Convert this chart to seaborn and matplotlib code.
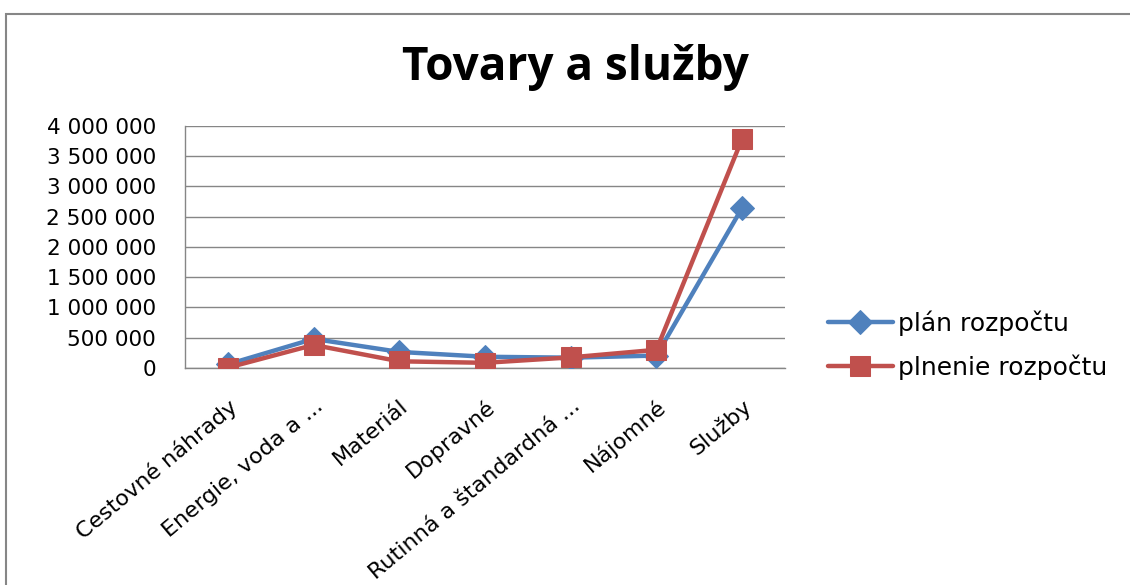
import numpy as np
import pandas as pd
import matplotlib.pyplot as plt
from matplotlib.patches import Rectangle
from matplotlib.ticker import FuncFormatter
import seaborn as sns

categories = ['Cestovné náhrady', 'Energie, voda a ...', 'Materiál', 'Dopravné',
              'Rutinná a štandardná ...', 'Nájomné', 'Služby']
plan = [60000, 480000, 265000, 185000, 170000, 205000, 2645000]
plnenie = [5000, 380000, 110000, 85000, 175000, 300000, 3785000]
series_names = ['plán rozpočtu', 'plnenie rozpočtu']
y_ticks = [0, 500000, 1000000, 1500000, 2000000, 2500000, 3000000, 3500000, 4000000]

sns.set_style('white')
plt.rcParams['font.family'] = ['DejaVu Sans']
plt.rcParams['text.color'] = 'black'
plt.rcParams['xtick.color'] = 'black'
plt.rcParams['ytick.color'] = 'black'

fig = plt.figure(figsize=(11.3, 5.85), dpi=100)
ax = fig.add_axes([0.1637, 0.371, 0.531, 0.414])

df = pd.DataFrame({'kategoria': categories * 2,
                   'hodnota': plan + plnenie,
                   'rad': [series_names[0]] * 7 + [series_names[1]] * 7})
df['x'] = list(range(7)) * 2

colors = {'plán rozpočtu': '#4F81BD', 'plnenie rozpočtu': '#C0504D'}
markers = {'plán rozpočtu': 'D', 'plnenie rozpočtu': 's'}
sizes = {'plán rozpočtu': 12, 'plnenie rozpočtu': 15}

# one line per series, categories placed on integer positions
for name in series_names:
    sub = df[df['rad'] == name]
    sns.lineplot(data=sub, x='x', y='hodnota', ax=ax, color=colors[name],
                 linewidth=3.2, marker=markers[name], markersize=sizes[name],
                 markeredgecolor=colors[name], label=name, zorder=3)

ax.set_xlim(-0.5, 6.5)
ax.set_ylim(0, 4000000)
ax.set_yticks(y_ticks)
ax.yaxis.set_major_formatter(FuncFormatter(lambda v, p: f'{int(v):,}'.replace(',', ' ')))
ax.set_xticks(range(7))
ax.set_xticklabels(categories, rotation=40, ha='right', rotation_mode='anchor', fontsize=16)
ax.tick_params(axis='y', labelsize=15.5, length=0, pad=21)
ax.tick_params(axis='x', length=0, pad=20)
ax.grid(axis='y', color='#868686', linewidth=1)
ax.set_axisbelow(True)
ax.set_xlabel('')
ax.set_ylabel('')
for s in ['top', 'right']:
    ax.spines[s].set_visible(False)
for s in ['left', 'bottom']:
    ax.spines[s].set_color('#868686')
    ax.spines[s].set_linewidth(1)

ax.legend(loc='center left', bbox_to_anchor=(0.7235, 0.41), bbox_transform=fig.transFigure,
          frameon=False, fontsize=18, handlelength=2.6, labelspacing=0.75,
          handletextpad=0.2, borderaxespad=0)

fig.text(0.509, 0.884, 'Tovary a služby', ha='center', va='center',
         fontsize=33, fontweight='bold', family='Open Sans', color='black')

fig.patches.append(Rectangle((0.005, -0.1), 1.1, 1.076, transform=fig.transFigure,
                             fill=False, edgecolor='#868686', linewidth=1.5))

fig.savefig('out.png', dpi=100)
